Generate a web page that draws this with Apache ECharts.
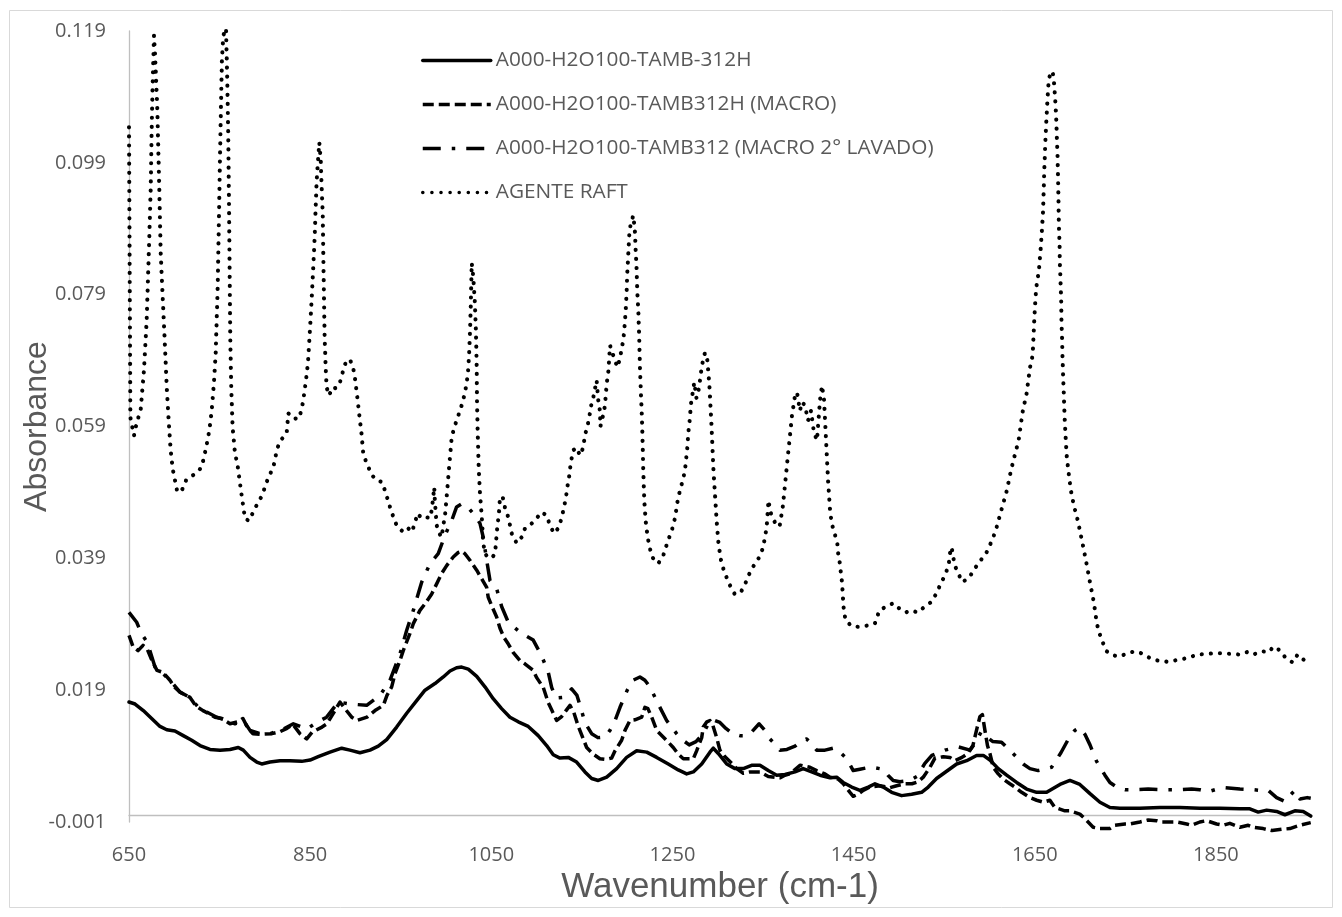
<!DOCTYPE html>
<html>
<head>
<meta charset="utf-8">
<title>FTIR spectra</title>
<script src="https://cdn.jsdelivr.net/npm/echarts@6/dist/echarts.min.js"></script>
<style>
  html, body { margin: 0; padding: 0; background: #ffffff; }
  #chart { width: 1342px; height: 917px; }
</style>
</head>
<body>
<div id="chart"></div>
<script>
// Series names as shown in the legend
const seriesNames = [
  'A000-H2O100-TAMB-312H',
  'A000-H2O100-TAMB312H (MACRO)',
  'A000-H2O100-TAMB312 (MACRO 2° LAVADO)',
  'AGENTE RAFT'
];

// Axis settings (wavenumber in cm-1, absorbance)
const xMin = 650, xMax = 1955, xStep = 200;
const yMin = -0.001, yMax = 0.119, yStep = 0.02;

// [wavenumber, absorbance]
const sample312h = [
  [650,0.0172],[656.7,0.0169],[665.8,0.0159],[675.0,0.0147],[684.2,0.0135],[691.7,0.0130],[700.7,0.0128],
  [709.9,0.0121],[719.2,0.0114],[728.4,0.0106],[739.4,0.0100],[750.5,0.0099],[761.5,0.0100],[770.7,0.0103],
  [776.2,0.0099],[783.6,0.0088],[791.0,0.0081],[796.5,0.0078],[805.7,0.0081],[816.7,0.0083],[827.7,0.0083],
  [840.7,0.0082],[849.9,0.0084],[858.9,0.0089],[871.9,0.0096],[884.8,0.0102],[893.9,0.0099],[905.0,0.0095],
  [916.1,0.0099],[925.2,0.0105],[934.5,0.0115],[945.5,0.0134],[956.6,0.0155],[967.6,0.0174],[976.8,0.0190],
  [987.8,0.0200],[997.0,0.0210],[1004.4,0.0219],[1011.7,0.0224],[1017.3,0.0225],[1024.6,0.0222],[1033.9,0.0211],
  [1043.0,0.0195],[1052.1,0.0177],[1061.4,0.0162],[1070.6,0.0149],[1079.8,0.0142],[1090.8,0.0135],[1101.8,0.0121],
  [1111.1,0.0106],[1118.4,0.0092],[1125.8,0.0087],[1135.0,0.0088],[1144.2,0.0081],[1153.4,0.0066],[1160.8,0.0056],
  [1168.1,0.0053],[1177.4,0.0058],[1188.4,0.0071],[1199.4,0.0088],[1210.5,0.0098],[1221.6,0.0096],[1232.6,0.0088],
  [1245.4,0.0078],[1256.4,0.0069],[1265.7,0.0063],[1273.0,0.0066],[1282.3,0.0078],[1291.4,0.0096],[1295.1,0.0102],
  [1300.6,0.0094],[1309.9,0.0078],[1319.1,0.0071],[1328.2,0.0071],[1337.4,0.0076],[1346.6,0.0076],[1355.8,0.0068],
  [1365.1,0.0061],[1374.2,0.0062],[1385.3,0.0066],[1394.4,0.0071],[1403.7,0.0066],[1412.9,0.0061],[1423.9,0.0057],
  [1431.3,0.0058],[1438.5,0.0050],[1447.9,0.0043],[1457.0,0.0038],[1466.2,0.0043],[1473.6,0.0048],[1482.7,0.0043],
  [1492.0,0.0035],[1503.0,0.0030],[1514.1,0.0032],[1525.1,0.0035],[1532.4,0.0043],[1541.6,0.0056],[1552.7,0.0067],
  [1563.8,0.0078],[1574.8,0.0083],[1585.8,0.0091],[1593.2,0.0091],[1600.5,0.0084],[1609.7,0.0071],[1619.0,0.0061],
  [1630.0,0.0050],[1641.0,0.0040],[1652.1,0.0035],[1663.1,0.0035],[1677.8,0.0047],[1688.8,0.0053],[1699.8,0.0047],
  [1711.0,0.0033],[1722.0,0.0020],[1733.0,0.0012],[1744.0,0.0011],[1766.1,0.0011],[1788.2,0.0012],[1810.2,0.0012],
  [1832.3,0.0011],[1854.4,0.0011],[1876.5,0.0010],[1887.5,0.0010],[1896.7,0.0005],[1906.0,0.0008],[1917.0,0.0006],
  [1926.2,0.0001],[1937.2,0.0007],[1946.4,0.0006],[1954.7,-0.0001]
];

const sampleMacro = [
  [650,0.0273],[654.5,0.0256],[660.0,0.0250],[665.5,0.0258],[669.9,0.0253],[675.4,0.0235],[680.9,0.0220],[687.5,0.0217],
  [695.2,0.0205],[700.7,0.0194],[706.3,0.0187],[717.4,0.0179],[723.9,0.0166],[731.7,0.0159],[744.9,0.0149],
  [752.6,0.0147],[761.5,0.0139],[770.3,0.0142],[775.8,0.0147],[781.3,0.0132],[786.9,0.0124],[794.6,0.0123],
  [807.8,0.0124],[816.7,0.0127],[824.4,0.0132],[831.0,0.0138],[838.7,0.0124],[846.2,0.0116],[852.0,0.0126],
  [863.1,0.0134],[868.6,0.0139],[875.2,0.0154],[878.6,0.0162],[882.9,0.0172],[888.4,0.0162],[895.9,0.0149],
  [901.7,0.0144],[912.8,0.0149],[921.6,0.0159],[930.8,0.0167],[934.8,0.0182],[940.0,0.0195],[943.7,0.0215],
  [949.2,0.0235],[952.8,0.0250],[960.2,0.0276],[963.9,0.0291],[971.2,0.0311],[976.8,0.0321],[984.2,0.0336],
  [987.8,0.0346],[995.2,0.0367],[1000.7,0.0379],[1008.0,0.0392],[1013.6,0.0399],[1017.6,0.0401],[1020.9,0.0397],
  [1026.4,0.0387],[1033.9,0.0372],[1039.4,0.0359],[1044.9,0.0346],[1046.6,0.0331],[1050.8,0.0317],[1055.9,0.0301],
  [1059.6,0.0284],[1064.0,0.0270],[1068.8,0.0260],[1074.3,0.0247],[1081.6,0.0235],[1087.1,0.0230],[1096.3,0.0220],
  [1100.1,0.0209],[1107.4,0.0194],[1112.9,0.0171],[1117.0,0.0159],[1122.2,0.0144],[1127.7,0.0150],[1132.5,0.0159],
  [1136.9,0.0167],[1141.2,0.0156],[1145.8,0.0136],[1150.1,0.0121],[1155.3,0.0103],[1162.6,0.0093],[1169.9,0.0086],
  [1176.6,0.0085],[1182.9,0.0087],[1186.6,0.0098],[1193.9,0.0114],[1197.6,0.0129],[1203.1,0.0144],[1208.6,0.0145],
  [1216.0,0.0149],[1219.6,0.0164],[1222.9,0.0162],[1227.1,0.0149],[1232.6,0.0129],[1236.2,0.0124],[1245.4,0.0111],
  [1250.9,0.0103],[1256.4,0.0093],[1262.0,0.0086],[1273.0,0.0086],[1276.7,0.0098],[1282.3,0.0118],[1284.0,0.0134],
  [1288.0,0.0142],[1291.4,0.0144],[1294.7,0.0136],[1298.8,0.0118],[1302.4,0.0099],[1308.0,0.0089],[1315.4,0.0079],
  [1320.9,0.0071],[1328.2,0.0064],[1335.6,0.0066],[1346.6,0.0066],[1355.8,0.0059],[1368.6,0.0057],[1374.2,0.0061],
  [1379.7,0.0063],[1390.8,0.0076],[1401.8,0.0073],[1409.2,0.0068],[1418.4,0.0063],[1423.9,0.0058],[1433.1,0.0055],
  [1438.6,0.0048],[1446.0,0.0035],[1449.6,0.0029],[1454.8,0.0032],[1460.6,0.0038],[1468.0,0.0043],[1479.1,0.0045],
  [1490.1,0.0042],[1497.5,0.0045],[1506.7,0.0048],[1514.4,0.0048],[1521.1,0.0051],[1526.9,0.0058],[1534.3,0.0073],
  [1539.8,0.0087],[1549.0,0.0089],[1556.3,0.0088],[1561.8,0.0083],[1569.6,0.0088],[1576.2,0.0094],[1581.7,0.0106],
  [1586.2,0.0132],[1589.5,0.0150],[1592.2,0.0153],[1595.0,0.0129],[1597.8,0.0106],[1600.5,0.0094],[1604.2,0.0073],
  [1609.7,0.0063],[1615.2,0.0055],[1622.5,0.0048],[1628.0,0.0043],[1635.5,0.0035],[1644.7,0.0027],[1652.1,0.0023],
  [1659.4,0.0020],[1666.7,0.0023],[1672.2,0.0012],[1683.3,0.0007],[1688.8,0.0007],[1699.8,0.0002],[1705.4,-0.0005],
  [1714.5,-0.0018],[1722.0,-0.0020],[1733.0,-0.0020],[1738.5,-0.0015],[1749.6,-0.0013],[1755.0,-0.0013],
  [1766.1,-0.0010],[1775.2,-0.0007],[1784.5,-0.0008],[1790.0,-0.0010],[1799.2,-0.0010],[1806.6,-0.0010],
  [1817.7,-0.0013],[1823.2,-0.0015],[1832.3,-0.0010],[1839.8,-0.0008],[1850.8,-0.0013],[1858.1,-0.0015],
  [1865.4,-0.0012],[1876.5,-0.0018],[1885.7,-0.0015],[1891.2,-0.0018],[1902.2,-0.0020],[1911.8,-0.0023],
  [1922.8,-0.0021],[1931.7,-0.0020],[1942.7,-0.0015],[1954.7,-0.0011]
];

const sampleMacroWashed = [
  [650,0.0308],[658.5,0.0293],[664.0,0.0275],[669.5,0.0264],[672.4,0.0253],[678.7,0.0225],[686.1,0.0217],
  [695.2,0.0205],[706.3,0.0187],[717.4,0.0179],[726.5,0.0164],[735.8,0.0157],[746.8,0.0149],[757.9,0.0144],
  [767.0,0.0139],[776.2,0.0144],[783.6,0.0129],[794.6,0.0124],[805.7,0.0124],[820.4,0.0131],[831.4,0.0139],
  [846.2,0.0131],[857.2,0.0141],[868.2,0.0149],[881.1,0.0172],[893.9,0.0169],[912.4,0.0167],[927.1,0.0182],
  [938.1,0.0205],[949.2,0.0245],[956.6,0.0281],[963.9,0.0311],[973.2,0.0354],[982.3,0.0382],[991.4,0.0397],
  [998.9,0.0425],[1006.2,0.0447],[1011.7,0.0468],[1017.6,0.0473],[1025.7,0.0465],[1031.9,0.0455],[1037.5,0.0443],
  [1041.1,0.0422],[1044.9,0.0387],[1048.6,0.0356],[1055.9,0.0344],[1061.4,0.0317],[1068.8,0.0293],[1081.6,0.0278],
  [1096.3,0.0266],[1105.6,0.0242],[1112.9,0.0217],[1116.7,0.0194],[1121.4,0.0178],[1129.5,0.0179],[1138.7,0.0192],
  [1144.6,0.0182],[1149.0,0.0162],[1153.4,0.0141],[1160.8,0.0124],[1167.7,0.0118],[1175.5,0.0119],[1181.0,0.0129],
  [1186.6,0.0144],[1192.1,0.0164],[1200.1,0.0190],[1206.4,0.0205],[1214.1,0.0210],[1219.6,0.0205],[1225.1,0.0195],
  [1234.3,0.0169],[1243.6,0.0144],[1249.5,0.0133],[1254.6,0.0124],[1261.6,0.0114],[1268.5,0.0107],[1276.0,0.0112],
  [1284.0,0.0124],[1291.4,0.0144],[1296.9,0.0144],[1302.4,0.0141],[1309.0,0.0132],[1316.5,0.0124],[1324.5,0.0121],
  [1331.9,0.0121],[1337.7,0.0127],[1345.7,0.0139],[1352.1,0.0129],[1357.6,0.0116],[1363.1,0.0108],[1368.6,0.0099],
  [1376.4,0.0100],[1385.3,0.0105],[1391.8,0.0112],[1398.2,0.0116],[1404.0,0.0108],[1409.2,0.0099],[1418.4,0.0099],
  [1427.5,0.0102],[1434.9,0.0096],[1442.4,0.0086],[1449.6,0.0068],[1457.0,0.0070],[1467.3,0.0073],[1474.7,0.0072],
  [1482.7,0.0070],[1487.9,0.0061],[1493.7,0.0053],[1501.1,0.0051],[1512.2,0.0053],[1519.9,0.0059],[1528.7,0.0079],
  [1536.4,0.0091],[1550.8,0.0099],[1565.5,0.0104],[1578.5,0.0099],[1585.0,0.0111],[1590.5,0.0126],[1596.0,0.0120],
  [1603.8,0.0112],[1613.3,0.0111],[1624.5,0.0096],[1637.2,0.0078],[1644.7,0.0071],[1653.8,0.0068],[1668.6,0.0073],
  [1678.9,0.0095],[1688.8,0.0120],[1694.3,0.0129],[1699.8,0.0133],[1705.4,0.0123],[1711.0,0.0107],[1718.3,0.0082],
  [1727.5,0.0061],[1733.0,0.0050],[1740.4,0.0043],[1749.6,0.0039],[1758.7,0.0039],[1775.2,0.0040],[1791.9,0.0039],
  [1810.2,0.0039],[1823.2,0.0040],[1832.3,0.0039],[1841.5,0.0036],[1848.9,0.0039],[1859.9,0.0042],[1876.5,0.0040],
  [1891.2,0.0039],[1898.5,0.0038],[1907.7,0.0038],[1917.0,0.0027],[1926.2,0.0021],[1931.7,0.0030],[1937.2,0.0038],
  [1942.7,0.0025],[1950.8,0.0027],[1954.7,0.0026]
];

const raftAgent = [
  [650,0.1044],[651.5,0.0604],[655.5,0.0576],[657.4,0.0589],[663.0,0.0617],[666.5,0.0675],[669.5,0.0751],
  [672.4,0.0877],[674.0,0.0953],[675.0,0.1039],[676.2,0.1115],[677.6,0.1183],[678.7,0.1156],[681.2,0.1074],
  [683.4,0.0953],[685.0,0.0853],[687.2,0.0786],[689.4,0.0721],[691.7,0.0649],[693.8,0.0599],[696.0,0.0554],
  [698.2,0.0526],[703.0,0.0493],[707.4,0.0490],[712.9,0.0508],[720.6,0.0516],[725.1,0.0521],[730.2,0.0528],
  [735.0,0.0557],[738.7,0.0584],[741.3,0.0614],[743.8,0.0657],[745.7,0.0701],[747.9,0.0801],[749.6,0.0929],
  [750.4,0.0994],[751.6,0.1080],[752.6,0.1146],[754.1,0.1183],[757.1,0.1194],[758.5,0.1115],[759.6,0.1029],
  [760.4,0.0929],[761.1,0.0827],[761.8,0.0725],[762.9,0.0649],[764.4,0.0589],[767.0,0.0549],[769.6,0.0534],
  [773.6,0.0493],[778.1,0.0450],[782.5,0.0447],[789.1,0.0466],[796.8,0.0485],[803.4,0.0511],[809.3,0.0528],
  [813.7,0.0557],[817.5,0.0569],[824.1,0.0580],[825.9,0.0610],[831.4,0.0602],[837.7,0.0602],[840.7,0.0617],
  [842.4,0.0630],[845.4,0.0660],[847.6,0.0687],[849.1,0.0721],[850.6,0.0756],[852.0,0.0792],[853.4,0.0831],
  [855.0,0.0877],[856.1,0.0923],[857.2,0.0963],[858.7,0.0994],[860.1,0.1021],[861.7,0.0994],[862.7,0.0953],
  [863.9,0.0913],[864.5,0.0853],[865.2,0.0792],[866.0,0.0725],[867.2,0.0678],[868.2,0.0649],[871.1,0.0637],
  [874.1,0.0649],[878.6,0.0648],[882.9,0.0657],[885.9,0.0672],[889.2,0.0687],[893.9,0.0692],[897.6,0.0678],
  [899.5,0.0663],[902.1,0.0634],[904.3,0.0607],[906.9,0.0577],[908.6,0.0549],[912.4,0.0534],[918.3,0.0516],
  [923.8,0.0508],[929.0,0.0506],[932.6,0.0493],[938.1,0.0468],[941.8,0.0453],[945.5,0.0440],[951.1,0.0432],
  [956.6,0.0438],[962.1,0.0430],[965.7,0.0443],[968.3,0.0458],[973.2,0.0451],[976.8,0.0453],[982.3,0.0451],
  [984.2,0.0463],[985.9,0.0483],[987.0,0.0498],[987.8,0.0475],[989.7,0.0440],[992.5,0.0428],[995.2,0.0422],
  [997.0,0.0440],[998.9,0.0455],[1000.7,0.0483],[1002.5,0.0513],[1004.4,0.0544],[1006.2,0.0572],[1008.7,0.0587],
  [1011.7,0.0599],[1015.4,0.0614],[1018.4,0.0627],[1020.9,0.0642],[1022.8,0.0655],[1024.6,0.0678],[1025.7,0.0706],
  [1026.4,0.0731],[1027.2,0.0766],[1027.9,0.0807],[1028.4,0.0838],[1030.1,0.0817],[1031.9,0.0777],[1033.1,0.0731],
  [1033.9,0.0680],[1034.2,0.0630],[1035.0,0.0580],[1036.1,0.0528],[1037.5,0.0488],[1039.4,0.0455],[1041.1,0.0413],
  [1043.1,0.0397],[1046.6,0.0391],[1050.8,0.0391],[1054.1,0.0397],[1055.1,0.0413],[1056.6,0.0437],[1058.4,0.0458],
  [1059.6,0.0483],[1062.6,0.0483],[1065.1,0.0467],[1068.8,0.0452],[1072.5,0.0428],[1078.0,0.0413],[1083.5,0.0422],
  [1087.1,0.0435],[1092.7,0.0440],[1100.1,0.0451],[1105.6,0.0460],[1111.1,0.0455],[1114.8,0.0440],[1119.2,0.0428],
  [1124.7,0.0437],[1127.7,0.0452],[1130.2,0.0467],[1132.5,0.0483],[1133.9,0.0498],[1135.7,0.0511],[1136.9,0.0526],
  [1138.7,0.0542],[1140.5,0.0554],[1144.2,0.0558],[1147.9,0.0546],[1151.5,0.0558],[1153.4,0.0577],[1155.9,0.0589],
  [1158.2,0.0604],[1159.7,0.0619],[1162.6,0.0634],[1166.3,0.0660],[1168.1,0.0630],[1169.9,0.0614],[1170.5,0.0590],
  [1171.8,0.0599],[1174.4,0.0611],[1175.8,0.0627],[1177.4,0.0655],[1179.1,0.0671],[1181.1,0.0713],[1183.6,0.0702],
  [1186.6,0.0690],[1189.1,0.0680],[1192.1,0.0693],[1193.9,0.0708],[1195.7,0.0721],[1196.8,0.0736],[1198.4,0.0766],
  [1199.4,0.0794],[1200.1,0.0822],[1201.3,0.0853],[1202.3,0.0880],[1203.9,0.0898],[1206.8,0.0910],[1208.6,0.0885],
  [1209.4,0.0857],[1210.5,0.0827],[1211.1,0.0797],[1212.3,0.0766],[1213.3,0.0725],[1214.1,0.0680],[1215.2,0.0640],
  [1216.3,0.0604],[1217.1,0.0564],[1217.8,0.0523],[1218.9,0.0478],[1220.4,0.0447],[1222.6,0.0422],[1225.1,0.0405],
  [1228.1,0.0391],[1234.3,0.0382],[1239.8,0.0394],[1242.8,0.0407],[1246.5,0.0422],[1249.8,0.0435],[1252.8,0.0451],
  [1255.8,0.0478],[1258.3,0.0493],[1261.3,0.0508],[1263.8,0.0523],[1265.0,0.0539],[1266.4,0.0558],[1267.5,0.0580],
  [1269.4,0.0604],[1270.2,0.0622],[1271.9,0.0637],[1274.1,0.0657],[1276.5,0.0633],[1279.3,0.0648],[1282.6,0.0683],
  [1285.9,0.0702],[1288.6,0.0690],[1290.8,0.0652],[1293.1,0.0592],[1295.3,0.0523],[1298.8,0.0447],[1300.5,0.0417],
  [1303.1,0.0390],[1306.0,0.0375],[1309.8,0.0361],[1313.5,0.0349],[1319.0,0.0335],[1326.4,0.0341],[1331.9,0.0356],
  [1335.6,0.0369],[1341.1,0.0382],[1346.6,0.0393],[1350.2,0.0407],[1352.1,0.0422],[1354.0,0.0437],[1356.0,0.0478],
  [1358.2,0.0460],[1360.9,0.0451],[1365.4,0.0438],[1368.6,0.0441],[1372.0,0.0470],[1375.3,0.0516],[1378.6,0.0561],
  [1382.0,0.0607],[1385.3,0.0637],[1387.5,0.0642],[1390.8,0.0614],[1393.0,0.0627],[1396.3,0.0622],[1399.7,0.0599],
  [1403.0,0.0614],[1406.2,0.0581],[1409.6,0.0569],[1412.9,0.0630],[1415.1,0.0652],[1417.4,0.0630],[1419.6,0.0569],
  [1421.8,0.0508],[1424.0,0.0463],[1425.8,0.0443],[1429.4,0.0426],[1432.0,0.0413],[1433.0,0.0397],[1434.9,0.0382],
  [1436.0,0.0367],[1437.2,0.0354],[1437.9,0.0339],[1438.5,0.0324],[1439.3,0.0310],[1441.2,0.0296],[1447.8,0.0287],
  [1456.2,0.0286],[1465.0,0.0288],[1473.5,0.0291],[1478.2,0.0310],[1484.6,0.0316],[1493.7,0.0322],[1500.4,0.0314],
  [1507.7,0.0308],[1512.9,0.0311],[1521.2,0.0308],[1528.7,0.0317],[1536.0,0.0324],[1541.5,0.0337],[1544.4,0.0346],
  [1548.9,0.0359],[1552.7,0.0371],[1555.3,0.0384],[1556.3,0.0397],[1558.2,0.0407],[1560.0,0.0392],[1561.8,0.0379],
  [1565.5,0.0367],[1570.3,0.0354],[1577.7,0.0361],[1584.0,0.0375],[1590.3,0.0387],[1596.1,0.0397],[1600.5,0.0410],
  [1604.2,0.0422],[1607.9,0.0437],[1613.7,0.0466],[1619.2,0.0493],[1623.7,0.0523],[1627.1,0.0542],[1632.2,0.0569],
  [1636.6,0.0612],[1641.0,0.0640],[1644.7,0.0679],[1647.7,0.0698],[1649.1,0.0741],[1650.2,0.0771],[1651.6,0.0800],
  [1654.6,0.0827],[1656.4,0.0857],[1657.9,0.0887],[1659.1,0.0915],[1659.8,0.0944],[1660.4,0.0974],[1661.2,0.1003],
  [1662.0,0.1032],[1663.1,0.1061],[1664.2,0.1090],[1665.6,0.1119],[1669.7,0.1129],[1671.1,0.1115],[1672.6,0.1086],
  [1673.7,0.1058],[1674.4,0.1029],[1675.2,0.0999],[1675.9,0.0955],[1676.3,0.0926],[1676.6,0.0897],[1677.4,0.0867],
  [1677.7,0.0839],[1678.5,0.0809],[1679.2,0.0780],[1679.5,0.0751],[1680.2,0.0722],[1680.7,0.0693],[1681.4,0.0664],
  [1682.2,0.0635],[1682.9,0.0606],[1684.0,0.0576],[1685.2,0.0547],[1687.1,0.0523],[1689.9,0.0493],[1693.2,0.0470],
  [1697.6,0.0447],[1702.1,0.0417],[1706.5,0.0387],[1711.6,0.0349],[1713.8,0.0334],[1715.6,0.0320],[1717.1,0.0305],
  [1718.6,0.0291],[1721.2,0.0277],[1724.9,0.0263],[1729.3,0.0249],[1736.0,0.0243],[1744.0,0.0241],[1752.5,0.0246],
  [1760.5,0.0249],[1769.7,0.0245],[1779.0,0.0237],[1789.0,0.0234],[1798.4,0.0233],[1807.7,0.0236],[1815.8,0.0238],
  [1821.3,0.0240],[1829.4,0.0244],[1839.0,0.0245],[1848.9,0.0246],[1858.1,0.0246],[1867.3,0.0245],[1876.5,0.0244],
  [1885.0,0.0248],[1891.2,0.0244],[1900.5,0.0249],[1908.9,0.0248],[1913.3,0.0256],[1919.9,0.0251],[1926.5,0.0240],
  [1934.7,0.0232],[1940.2,0.0244],[1943.9,0.0239],[1948.2,0.0235],[1954.5,0.0241]
];

const seriesData = [sample312h, sampleMacro, sampleMacroWashed, raftAgent];

// Line patterns: solid, dashed, long dash-dot, round dots
const lineStyles = [
  { type: 'solid', cap: 'round' },
  { type: [11, 5], cap: 'butt' },
  { type: [18, 11, 3.5, 11], cap: 'butt' },
  { type: [0.1, 9], cap: 'round' }
];
const lineWidths = [3.5, 3.5, 3.5, 4.1];

const GRAY = '#595959';
const chart = echarts.init(document.getElementById('chart'), null, { renderer: 'canvas' });

chart.setOption({
  animation: false,
  backgroundColor: '#ffffff',
  graphic: [{
    type: 'rect',
    shape: { x: 9.5, y: 10.5, width: 1323, height: 897 },
    style: { fill: 'none', stroke: '#d9d9d9', lineWidth: 1 },
    silent: true,
    z: -1
  }],
  grid: { left: 129, right: 31, top: 31, bottom: 95, containLabel: false },
  legend: {
    orient: 'vertical',
    left: 421,
    top: 50,
    padding: 0,
    itemWidth: 68,
    itemHeight: 14,
    itemGap: 23,
    data: seriesNames,
    itemStyle: { color: 'rgba(0,0,0,0)', borderWidth: 0, opacity: 0 },
    lineStyle: { width: 3.5 },
    textStyle: { color: GRAY, fontFamily: 'Open Sans', fontSize: 20.8 },
    selectedMode: false
  },
  xAxis: {
    type: 'value',
    min: xMin,
    max: xMax,
    interval: xStep,
    name: 'Wavenumber (cm-1)',
    nameLocation: 'middle',
    nameGap: 65,
    nameMoveOverlap: false,
    nameTextStyle: { color: GRAY, fontFamily: 'Liberation Sans', fontSize: 35, verticalAlign: 'middle', align: 'center' },
    axisLine: { show: true, lineStyle: { color: '#bfbfbf', width: 1.3 } },
    axisTick: { show: false },
    splitLine: { show: false },
    axisLabel: {
      color: GRAY, fontFamily: 'Open Sans', fontSize: 20, margin: 23,
      showMaxLabel: false,
      formatter: v => String(v)
    }
  },
  yAxis: {
    type: 'value',
    min: yMin,
    max: yMax,
    interval: yStep,
    name: 'Absorbance',
    nameLocation: 'middle',
    nameRotate: 90,
    nameGap: 92,
    nameMoveOverlap: false,
    nameTextStyle: { color: GRAY, fontFamily: 'Liberation Sans', fontSize: 32, verticalAlign: 'middle', align: 'center' },
    axisLine: { show: true, onZero: false, lineStyle: { color: '#bfbfbf', width: 1.3 } },
    axisTick: { show: false },
    splitLine: { show: false },
    axisLabel: {
      color: GRAY, fontFamily: 'Open Sans', fontSize: 20, margin: 23,
      formatter: v => v.toFixed(3)
    }
  },
  series: seriesNames.map((name, i) => ({
    name,
    type: 'line',
    data: seriesData[i],
    showSymbol: false,
    symbol: 'none',
    clip: false,
    smooth: false,
    z: 2 + i,
    itemStyle: { color: '#000000' },
    lineStyle: { color: '#000000', width: lineWidths[i], type: lineStyles[i].type, cap: lineStyles[i].cap, join: 'round' }
  }))
});
</script>
</body>
</html>
